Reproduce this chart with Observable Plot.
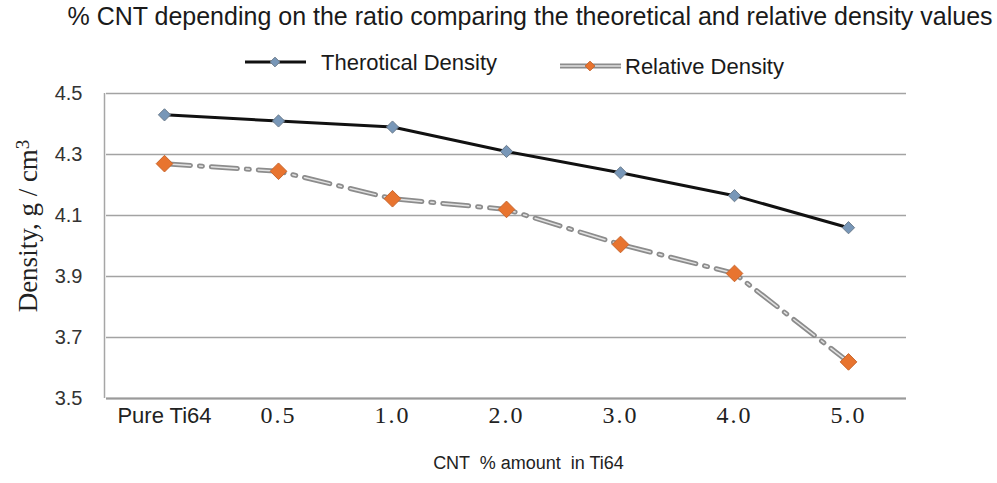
<!DOCTYPE html>
<html>
<head>
<meta charset="utf-8">
<script src="https://cdn.jsdelivr.net/npm/d3@7"></script>
<script src="https://cdn.jsdelivr.net/npm/@observablehq/plot@0.6"></script>
<style>
  html, body { margin: 0; padding: 0; background: #fff; }
  #wrap { position: relative; width: 997px; height: 483px; overflow: hidden; }
  #title { position: absolute; left: 0; width: 1060px; top: 2px; text-align: center;
    font-family: "Liberation Sans", Arial, sans-serif; font-size: 25px; color: #1a1a1a; white-space: nowrap; }
  #legend { position: absolute; left: 0; top: 44px; }
  #chart { position: absolute; left: 0; top: 0; }
</style>
</head>
<body>
<div id="wrap">
  <div id="chart"></div>
  <div id="title">% CNT depending on the ratio comparing the theoretical and relative density values</div>
  <svg id="legend" width="997" height="40"></svg>
</div>
<script>
const categories = ["Pure Ti64", "0.5", "1.0", "2.0", "3.0", "4.0", "5.0"];
const theoretical = [4.43, 4.41, 4.39, 4.31, 4.24, 4.165, 4.06];
const relative = [4.27, 4.245, 4.155, 4.12, 4.005, 3.91, 3.62];
const yTicks = [3.5, 3.7, 3.9, 4.1, 4.3, 4.5];
const seriesNames = ["Therotical Density", "Relative Density"];
const xTitle = "CNT  % amount  in Ti64";
const yTitle = "Density, g / cm3";

const theoData = categories.map((c, i) => ({cat: c, v: theoretical[i]}));
const relData = categories.map((c, i) => ({cat: c, v: relative[i]}));

const sans = "Liberation Sans, Arial, sans-serif";
const serif = "Liberation Serif, Times New Roman, serif";
const dash = "26,9,3,9";

const leftLine = (index, scales, values, dims) => {
  const l = d3.create("svg:line")
    .attr("x1", dims.marginLeft - 1.5).attr("x2", dims.marginLeft - 1.5)
    .attr("y1", dims.marginTop).attr("y2", dims.height - dims.marginBottom)
    .attr("stroke", "#a6a6a6").attr("stroke-width", 1.5);
  return l.node();
};

const chart = Plot.plot({
  width: 997,
  height: 483,
  marginTop: 93,
  marginBottom: 85,
  marginLeft: 106,
  marginRight: 91,
  style: {background: "transparent", overflow: "visible"},
  x: {type: "band", domain: categories, padding: 0, axis: null},
  y: {domain: [3.5, 4.5], ticks: yTicks, axis: null},
  marks: [
    Plot.gridY(yTicks, {stroke: "#a3a3a3", strokeOpacity: 1, strokeWidth: 1.5}),
    Plot.ruleY([3.5], {stroke: "#9a9a9a", strokeWidth: 2}),
    leftLine,
    Plot.axisY(yTicks, {label: null, tickSize: 0, tickPadding: 24, tickFormat: d3.format(".1f"),
      fontSize: 20, fontFamily: sans, fill: "#333"}),
    Plot.text(categories.filter(c => c === "Pure Ti64"), {x: d => d, frameAnchor: "bottom", dy: 24,
      fontSize: 22, fontFamily: sans, fill: "#222"}),
    Plot.text(categories.filter(c => c !== "Pure Ti64"), {x: d => d, frameAnchor: "bottom", dy: 24,
      fontSize: 24, fontFamily: serif, fill: "#222", className: "numtick"}),
    Plot.text([xTitle], {frameAnchor: "bottom", dy: 70, dx: 22, fontSize: 18, fontFamily: sans, fill: "#222"}),
    Plot.text([yTitle], {frameAnchor: "left", textAnchor: "middle", dx: -78, dy: -20, rotate: -90, fontSize: 27,
      fontFamily: serif, fill: "#222", className: "ytitle"}),
    Plot.line(relData, {x: "cat", y: "v", stroke: "#8c8c8c", strokeWidth: 5, strokeDasharray: dash}),
    Plot.line(relData, {x: "cat", y: "v", stroke: "#e2e2e2", strokeWidth: 1.5, strokeDasharray: dash}),
    Plot.line(theoData, {x: "cat", y: "v", stroke: "#111", strokeWidth: 3}),
    Plot.dot(theoData, {x: "cat", y: "v", symbol: "diamond2", r: 5.5, fill: "#7897b8", stroke: "#6c7c8c", strokeWidth: 1}),
    Plot.dot(relData, {x: "cat", y: "v", symbol: "diamond2", r: 7.5, fill: "#e8742f", stroke: "#c8662e", strokeWidth: 1})
  ]
});
document.getElementById("chart").appendChild(chart);

// superscript on y title
d3.select(chart).selectAll(".ytitle text").each(function() {
  const t = d3.select(this);
  if (t.text() === yTitle) {
    t.text("Density, g / cm");
    t.append("tspan").attr("dy", "-0.45em").attr("font-size", "19").text("3");
  }
});
d3.select(chart).selectAll(".numtick text").attr("letter-spacing", "2px");

// legend
const lg = d3.select("#legend");
const ly = 18;
lg.append("line").attr("x1", 245).attr("x2", 306).attr("y1", ly).attr("y2", ly)
  .attr("stroke", "#111").attr("stroke-width", 3);
lg.append("path").attr("d", d3.symbol(d3.symbolDiamond2, 60)()).attr("transform", `translate(275,${ly})`)
  .attr("fill", "#7897b8").attr("stroke", "#6c7c8c");
lg.append("text").attr("x", 321).attr("y", ly).attr("dy", "0.35em").text(seriesNames[0])
  .attr("font-family", sans).attr("font-size", 22).attr("fill", "#1a1a1a");
lg.append("line").attr("x1", 560).attr("x2", 621).attr("y1", ly + 4).attr("y2", ly + 4)
  .attr("stroke", "#8c8c8c").attr("stroke-width", 5);
lg.append("line").attr("x1", 560).attr("x2", 621).attr("y1", ly + 4).attr("y2", ly + 4)
  .attr("stroke", "#e2e2e2").attr("stroke-width", 1.5);
lg.append("path").attr("d", d3.symbol(d3.symbolDiamond2, 60)()).attr("transform", `translate(590,${ly + 4})`)
  .attr("fill", "#e8742f").attr("stroke", "#c8662e");
lg.append("text").attr("x", 625).attr("y", ly + 4).attr("dy", "0.35em").text(seriesNames[1])
  .attr("font-family", sans).attr("font-size", 22).attr("fill", "#1a1a1a");
</script>
</body>
</html>
